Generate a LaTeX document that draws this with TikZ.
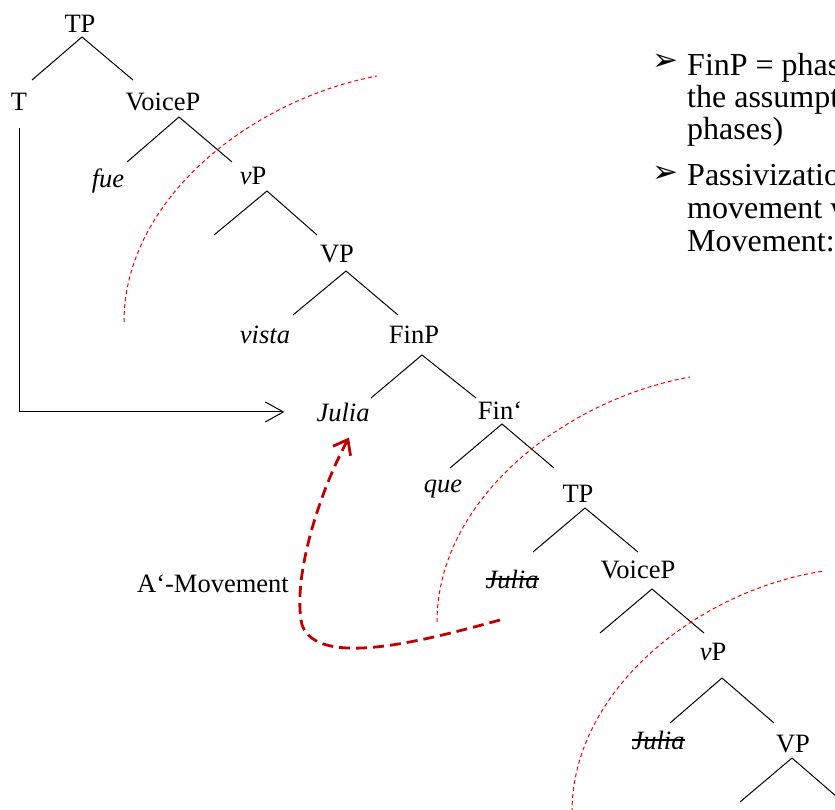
\documentclass[tikz,border=0pt]{standalone}
\usepackage{fontspec}
\setmainfont{Liberation Serif}
\newfontfamily\dejavu{DejaVu Sans}
\usetikzlibrary{arrows.meta}
\definecolor{dred}{HTML}{C00000}
\newcommand{\strk}[1]{\setbox0=\hbox{#1}\rlap{\copy0}\rule[0.3em]{\wd0}{0.07em}}
\begin{document}
\begin{tikzpicture}[x=1pt,y=-1pt,
  lbl/.style={anchor=base, inner sep=0pt, font=\fontsize{26.5}{30}\selectfont},
  txt/.style={anchor=base west, inner sep=0pt, font=\fontsize{32}{32}\selectfont},
  bul/.style={anchor=center, inner sep=0pt, font=\dejavu\fontsize{31}{31}\selectfont},
  br/.style={line width=1pt},
  phase/.style={red, line width=1pt, dash pattern=on 4pt off 3pt},
  mov/.style={dred, line width=2.8pt, dash pattern=on 11pt off 6pt,
    -{Straight Barb[length=13pt,width=20pt,line width=2.8pt]}},
  tarrow/.style={line width=1pt, -{Straight Barb[length=18pt,width=20pt,line width=1pt]}}
]
\useasboundingbox (0,0) rectangle (835,809);
\clip (0,0) rectangle (835,809);

% labels
\node[lbl] (tp1) at (80,32) {TP};
\node[lbl] (t1) at (19,110) {T};
\node[lbl] (voice1) at (163,110) {VoiceP};
\node[lbl] (fue) at (108,187) {\itshape fue};
\node[lbl] (vp1) at (253,184) {\textit{v}P};
\node[lbl] (VP1) at (337,262) {VP};
\node[lbl] (vista) at (265,343) {\itshape vista};
\node[lbl] (finp) at (414,343) {FinP};
\node[lbl] (julia) at (343,421) {\itshape Julia};
\node[lbl] (finbar) at (500,419) {Fin‘};
\node[lbl] (que) at (443,492) {\itshape que};
\node[lbl] (tp2) at (578,502) {TP};
\node[lbl] (julia2) at (512,588) {\itshape\strk{Julia}};
\node[lbl] (amov) at (213,592) {A‘-Movement};
\node[lbl] (voice2) at (638,578) {VoiceP};
\node[lbl] (vp2) at (713,660) {\textit{v}P};
\node[lbl] (julia3) at (658,749) {\itshape\strk{Julia}};
\node[lbl] (VP2) at (793,752) {VP};

% branch points
\coordinate (a1) at (82,37);  \coordinate (a1l) at (32,80);  \coordinate (a1r) at (133,80);
\coordinate (a2) at (179,117); \coordinate (a2l) at (127,162); \coordinate (a2r) at (232,162);
\coordinate (a3) at (267,191); \coordinate (a3l) at (214,235); \coordinate (a3r) at (317,235);
\coordinate (a4) at (346,271); \coordinate (a4l) at (293,315); \coordinate (a4r) at (398,315);
\coordinate (a5) at (422,355); \coordinate (a5l) at (371,398); \coordinate (a5r) at (476,398);
\coordinate (a6) at (502,424); \coordinate (a6l) at (450,468); \coordinate (a6r) at (554,468);
\coordinate (a7) at (585,508); \coordinate (a7l) at (533,552); \coordinate (a7r) at (638,552);
\coordinate (a8) at (652,589); \coordinate (a8l) at (600,633); \coordinate (a8r) at (704,633);
\coordinate (a9) at (722,678); \coordinate (a9l) at (670,723); \coordinate (a9r) at (774,723);
\coordinate (a10) at (792,758); \coordinate (a10l) at (740,802); \coordinate (a10r) at (852,810);

\foreach \n in {1,...,10}{
  \draw[br] (a\n l) -- (a\n) -- (a\n r);
}

% phase boundaries
\draw[phase] (124,322) .. controls (124,200) and (250,100) .. (377,76);
\draw[phase] (437,622) .. controls (437,500) and (563,400) .. (690,377);
\draw[phase] (572,812) .. controls (572,690) and (698,590) .. (824,571);

% T movement arrow
\coordinate (tstart) at ([yshift=-18pt]t1.south);
\coordinate (tend) at ([xshift=-32pt]julia.west);
\draw[tarrow] (tstart) |- (tend);

% A'-movement arrow
\coordinate (mvs) at (500,620);
\coordinate (mve) at ([xshift=6pt,yshift=-16pt]julia.south);
\draw[mov] (mvs) .. controls (420,642) and (318,668) .. (302,625)
  .. controls (292,580) and (318,495) .. (mve);

% right text
\node[bul] (b1) at (665,62) {➢};
\node[txt] (l1) at (687,75) {FinP = phase};
\node[txt] (l2) at (687,107) {the assumption};
\node[txt] (l3) at (687,139) {phases)};
\node[bul] (b2) at (665,174) {➢};
\node[txt] (l4) at (687,185) {Passivization};
\node[txt] (l5) at (687,218) {movement w};
\node[txt] (l6) at (687,251) {Movement:};
\end{tikzpicture}
\end{document}
